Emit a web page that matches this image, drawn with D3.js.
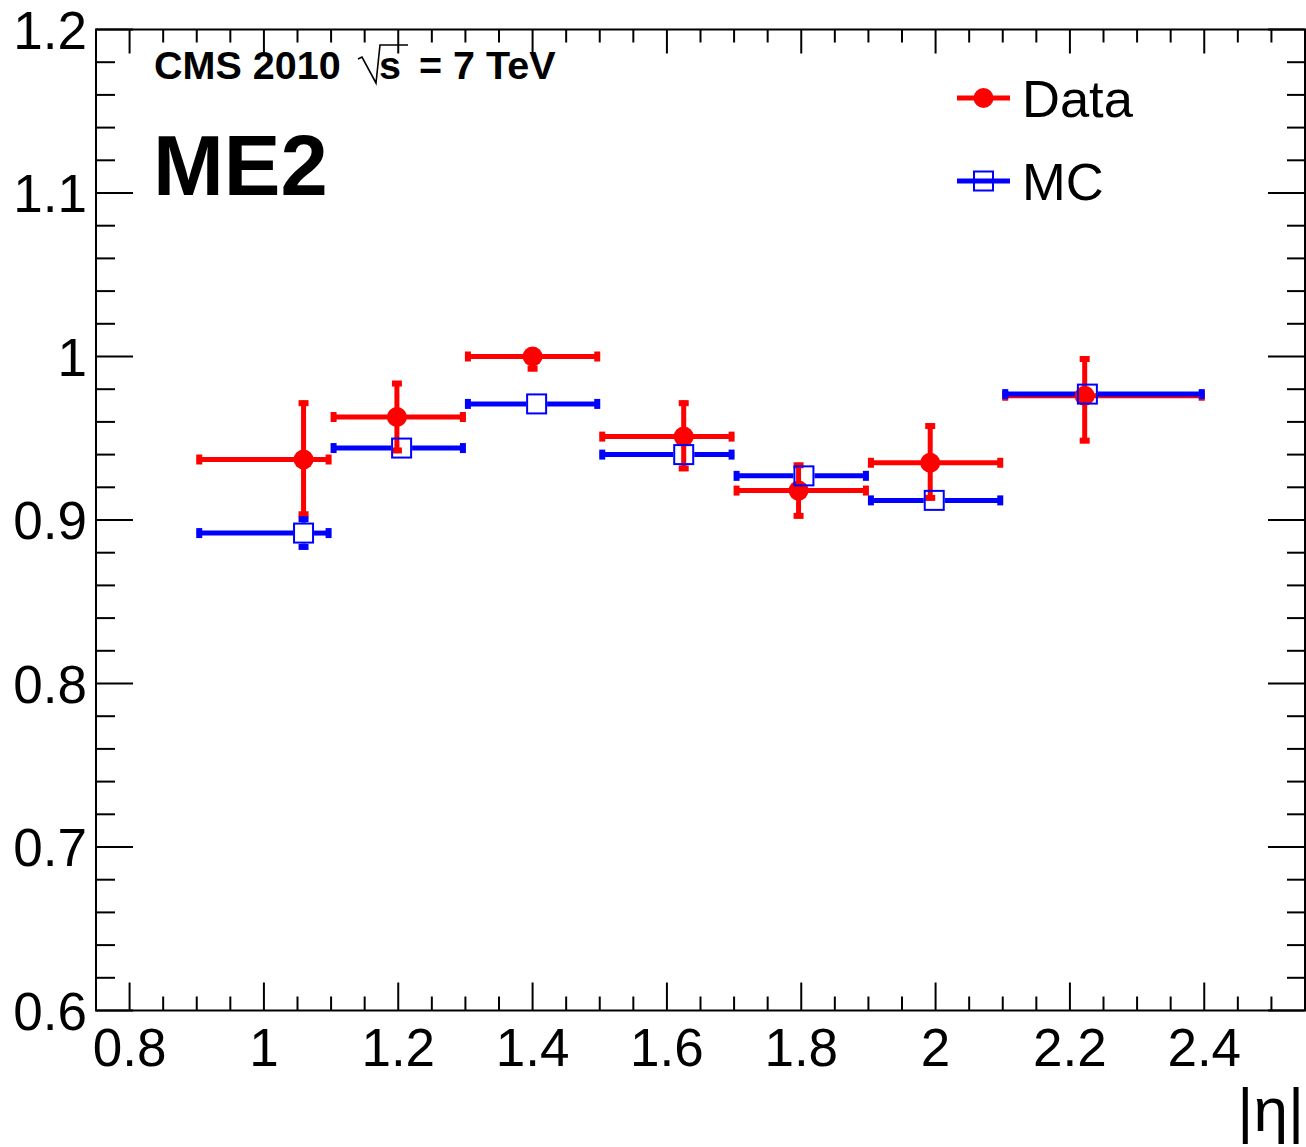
<!DOCTYPE html>
<html>
<head>
<meta charset="utf-8">
<script src="https://cdn.jsdelivr.net/npm/d3@7"></script>
<style>
  html, body { margin: 0; padding: 0; background: #fff; }
  svg { display: block; font-family: "Liberation Sans", Arial, sans-serif; }
</style>
</head>
<body>
<div id="chart"></div>
<script>
// bins in |eta|
const bin_lo = [0.9, 1.1, 1.3, 1.5, 1.7, 1.9, 2.1];
const bin_hi = [1.1, 1.3, 1.5, 1.7, 1.9, 2.1, 2.4];

// Data (red)
const data_x = [1.059, 1.198, 1.400, 1.625, 1.796, 1.992, 2.222];
const data_y = [0.937, 0.963, 1.000, 0.951, 0.918, 0.935, 0.976];
const data_err_up = [0.036, 0.022, 0.000, 0.022, 0.017, 0.024, 0.024];
const data_err_dn = [0.035, 0.022, 0.009, 0.021, 0.017, 0.023, 0.029];

// MC (blue)
const mc_x = [1.059, 1.205, 1.406, 1.625, 1.804, 1.998, 2.226];
const mc_y = [0.892, 0.944, 0.971, 0.940, 0.927, 0.912, 0.977];
const mc_err_up = [0.010, 0.005, 0.005, 0.005, 0.005, 0.005, 0.005];
const mc_err_dn = [0.010, 0.005, 0.005, 0.005, 0.005, 0.005, 0.005];

const x_tick_labels = [0.8, 1, 1.2, 1.4, 1.6, 1.8, 2, 2.2, 2.4];
const y_tick_labels = [0.6, 0.7, 0.8, 0.9, 1, 1.1, 1.2];

const legend_labels = ["Data", "MC"];

const __CONFIG__ = {
  width: 1306,
  height: 1147,
  left: 96,
  right: 1305,
  top: 29.5,
  bottom: 1010.5,
  red: "#ff0000",
  blue: "#0000ff",
  bar_width: 5,
  circle_r: 10,
  square_half: 10.5
};

const cfg = __CONFIG__;

const svg = d3.select("#chart").append("svg")
    .attr("width", cfg.width)
    .attr("height", cfg.height);

const x = d3.scaleLinear().domain([0.75, 2.55]).range([cfg.left, cfg.right]);
const y = d3.scaleLinear().domain([0.6, 1.2]).range([cfg.bottom, cfg.top]);

// ---- frame and ticks
const axes_g = svg.append("g").classed("axes", true)
    .attr("stroke", "#000")
    .attr("stroke-width", 2);

axes_g.append("rect")
    .attr("x", cfg.left)
    .attr("y", cfg.top)
    .attr("width", cfg.right - cfg.left)
    .attr("height", cfg.bottom - cfg.top)
    .attr("fill", "none");

const x_minor = d3.range(16, 51).map(i => +(i * 0.05).toFixed(2));
const y_minor = d3.range(30, 61).map(i => +(i * 0.02).toFixed(2));
const is_major_x = v => x_tick_labels.some(t => Math.abs(t - v) < 1e-6);
const is_major_y = v => y_tick_labels.some(t => Math.abs(t - v) < 1e-6);

axes_g.selectAll("line.xtick-bottom")
  .data(x_minor)
  .join("line")
    .classed("xtick-bottom", true)
    .attr("x1", d => x(d)).attr("x2", d => x(d))
    .attr("y1", cfg.bottom)
    .attr("y2", d => cfg.bottom - (is_major_x(d) ? 28 : 14));

axes_g.selectAll("line.xtick-top")
  .data(x_minor)
  .join("line")
    .classed("xtick-top", true)
    .attr("x1", d => x(d)).attr("x2", d => x(d))
    .attr("y1", cfg.top)
    .attr("y2", d => cfg.top + (is_major_x(d) ? 24 : 13));

axes_g.selectAll("line.ytick-left")
  .data(y_minor)
  .join("line")
    .classed("ytick-left", true)
    .attr("y1", d => y(d)).attr("y2", d => y(d))
    .attr("x1", cfg.left)
    .attr("x2", d => cfg.left + (is_major_y(d) ? 37 : 19));

axes_g.selectAll("line.ytick-right")
  .data(y_minor)
  .join("line")
    .classed("ytick-right", true)
    .attr("y1", d => y(d)).attr("y2", d => y(d))
    .attr("x1", cfg.right)
    .attr("x2", d => cfg.right - (is_major_y(d) ? 37 : 18));

// tick labels
svg.append("g").selectAll("text")
  .data(x_tick_labels)
  .join("text")
    .attr("x", d => x(d))
    .attr("y", 1066)
    .attr("text-anchor", "middle")
    .attr("font-size", 53)
    .text(d => d);

svg.append("g").selectAll("text")
  .data(y_tick_labels)
  .join("text")
    .attr("x", 87)
    .attr("y", d => y(d) + 19)
    .attr("text-anchor", "end")
    .attr("font-size", 53)
    .text(d => d);

// axis title
svg.append("text")
    .attr("x", 1304)
    .attr("y", 1131)
    .attr("text-anchor", "end")
    .attr("font-size", 62)
    .text("|η|");

// ---- error bars
function draw_bars(g, xs, ys, up, dn, color, gap_h, gap_v) {
  const rows = xs.map((xv, i) => ({
    cx: x(xv), cy: y(ys[i]),
    x0: x(bin_lo[i]), x1: x(bin_hi[i]),
    y0: y(ys[i] + up[i]), y1: y(ys[i] - dn[i])
  }));
  const segs = [];
  const caps = [];
  rows.forEach(r => {
    // horizontal
    segs.push([r.x0, r.cy, r.cx - gap_h, r.cy]);
    segs.push([r.cx + gap_h, r.cy, r.x1, r.cy]);
    caps.push([r.x0 + 2.5, r.cy - 5, r.x0 + 2.5, r.cy + 5]);
    caps.push([r.x1 - 2.5, r.cy - 5, r.x1 - 2.5, r.cy + 5]);
    // vertical
    if (r.cy - r.y0 > gap_v) {
      segs.push([r.cx, r.y0, r.cx, r.cy - gap_v]);
      caps.push([r.cx - 5, r.y0 + 2.5, r.cx + 5, r.y0 + 2.5]);
    }
    if (r.y1 - r.cy > gap_v) {
      segs.push([r.cx, r.cy + gap_v, r.cx, r.y1]);
      caps.push([r.cx - 5, r.y1 - 2.5, r.cx + 5, r.y1 - 2.5]);
    }
  });
  g.selectAll("line.seg")
    .data(segs)
    .join("line")
      .classed("seg", true)
      .attr("x1", d => d[0]).attr("y1", d => d[1])
      .attr("x2", d => d[2]).attr("y2", d => d[3])
      .attr("stroke", color)
      .attr("stroke-width", cfg.bar_width);
  g.selectAll("line.cap")
    .data(caps)
    .join("line")
      .classed("cap", true)
      .attr("x1", d => d[0]).attr("y1", d => d[1])
      .attr("x2", d => d[2]).attr("y2", d => d[3])
      .attr("stroke", color)
      .attr("stroke-width", 6);
}

draw_bars(svg.append("g").classed("data-bars", true),
  data_x, data_y, data_err_up, data_err_dn, cfg.red, 0, 0);
draw_bars(svg.append("g").classed("mc-bars", true),
  mc_x, mc_y, mc_err_up, mc_err_dn, cfg.blue, cfg.square_half, cfg.square_half);

// ---- markers
svg.append("g").classed("data-markers", true)
  .selectAll("circle")
  .data(data_x)
  .join("circle")
    .attr("cx", d => x(d))
    .attr("cy", (d, i) => y(data_y[i]))
    .attr("r", cfg.circle_r)
    .attr("fill", cfg.red);

svg.append("g").classed("mc-markers", true)
  .selectAll("rect")
  .data(mc_x)
  .join("rect")
    .attr("x", d => x(d) - cfg.square_half + 1)
    .attr("y", (d, i) => y(mc_y[i]) - cfg.square_half + 1)
    .attr("width", 2 * cfg.square_half - 2)
    .attr("height", 2 * cfg.square_half - 2)
    .attr("fill", "none")
    .attr("stroke", cfg.blue)
    .attr("stroke-width", 2);

// ---- legend
const legend = svg.append("g").classed("legend", true);
const legend_rows = [
  {label: legend_labels[0], color: cfg.red, ly: 98, ty: 117},
  {label: legend_labels[1], color: cfg.blue, ly: 181, ty: 200}
];
legend.selectAll("line")
  .data(legend_rows)
  .join("line")
    .attr("x1", 957).attr("x2", 1010)
    .attr("y1", d => d.ly).attr("y2", d => d.ly)
    .attr("stroke", d => d.color)
    .attr("stroke-width", cfg.bar_width);
legend.append("circle")
    .attr("cx", 983.5).attr("cy", legend_rows[0].ly)
    .attr("r", cfg.circle_r)
    .attr("fill", cfg.red);
legend.append("rect")
    .attr("x", 983.5 - cfg.square_half + 1)
    .attr("y", legend_rows[1].ly - cfg.square_half + 1)
    .attr("width", 2 * cfg.square_half - 2)
    .attr("height", 2 * cfg.square_half - 2)
    .attr("fill", "none")
    .attr("stroke", cfg.blue)
    .attr("stroke-width", 2);
legend.selectAll("text")
  .data(legend_rows)
  .join("text")
    .attr("x", 1022)
    .attr("y", d => d.ty)
    .attr("font-size", 52.5)
    .text(d => d.label);

// ---- CMS label with sqrt(s)
const cms_g = svg.append("g").classed("cms-label", true)
    .attr("font-weight", "bold")
    .attr("font-size", 39.5);
cms_g.append("text")
    .attr("x", 154).attr("y", 79)
    .text("CMS 2010");
const sx = 358;   // start of radical
cms_g.append("path")
    .attr("d", `M${sx},59 L${sx + 4},57 L${sx + 18},83 L${sx + 22},45 L${sx + 50},45`)
    .attr("fill", "none")
    .attr("stroke", "#000")
    .attr("stroke-width", 1.6);
cms_g.append("text")
    .attr("x", sx + 21).attr("y", 79)
    .text("s");
cms_g.append("text")
    .attr("x", 419).attr("y", 79)
    .text("= 7 TeV");

svg.append("text")
    .attr("x", 153)
    .attr("y", 195)
    .attr("font-weight", "bold")
    .attr("font-size", 85)
    .text("ME2");
</script>
</body>
</html>
